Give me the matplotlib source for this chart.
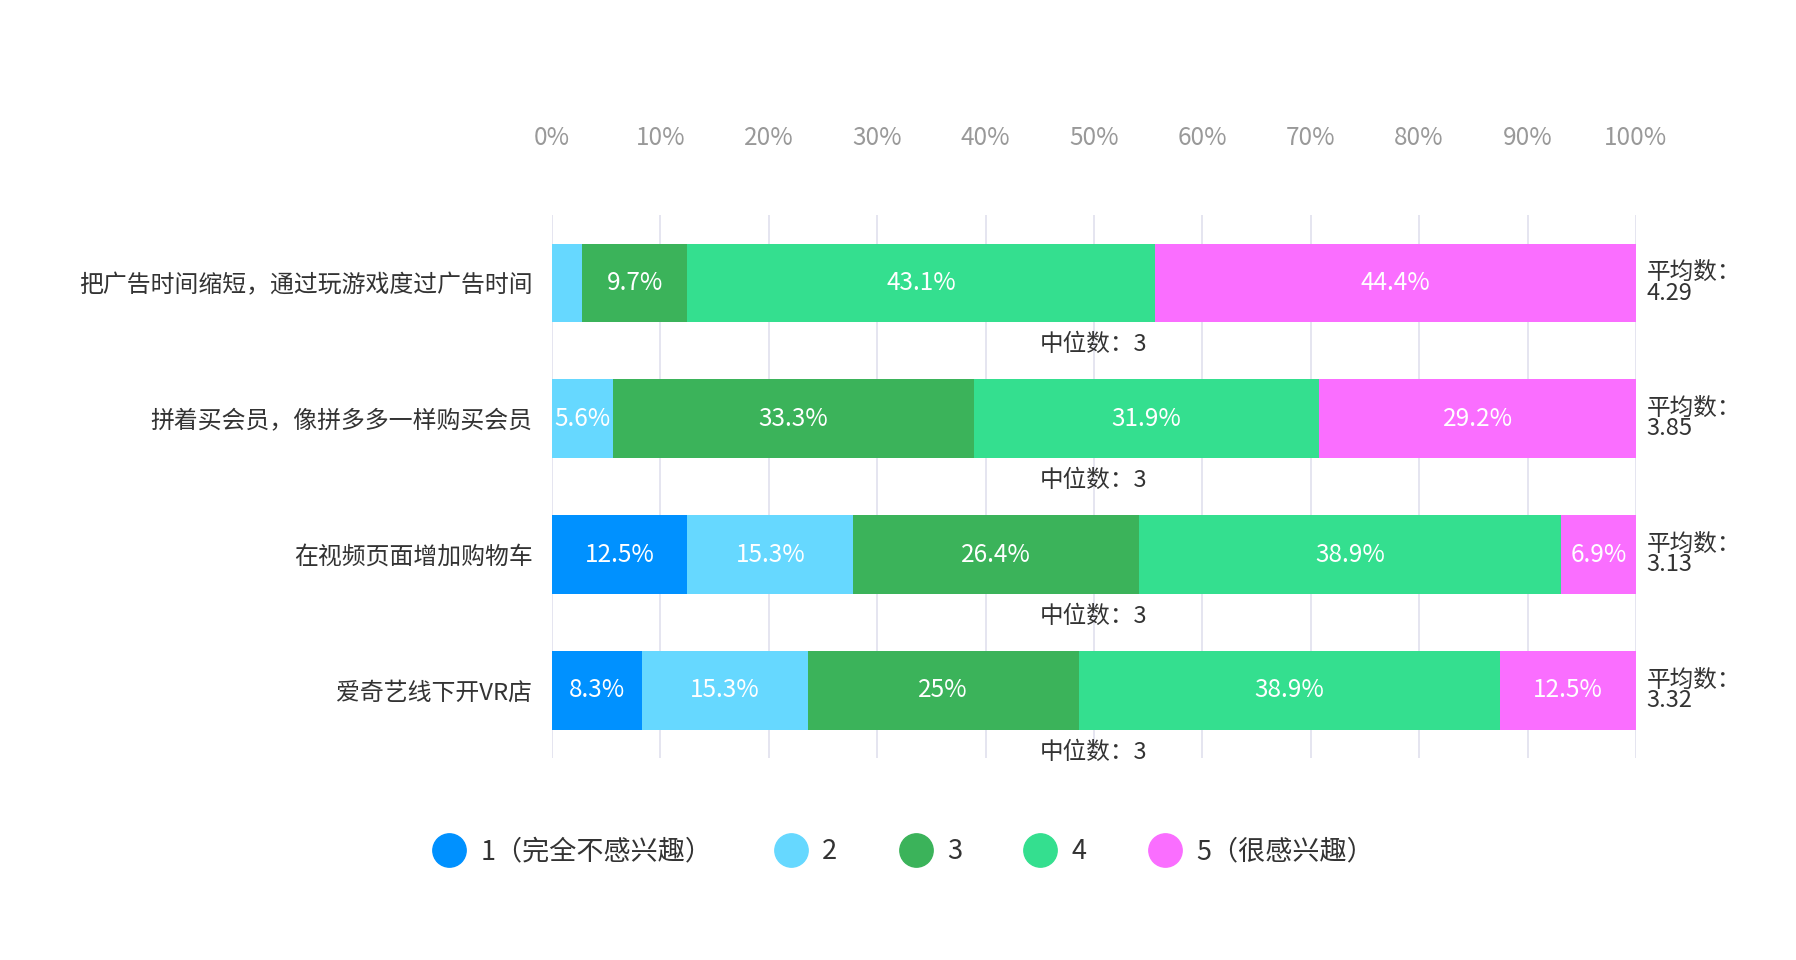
import matplotlib.pyplot as plt
from matplotlib.lines import Line2D

plt.rcParams['font.family'] = ['Noto Sans CJK SC', 'DejaVu Sans']

categories = ['把广告时间缩短，通过玩游戏度过广告时间', '拼着买会员，像拼多多一样购买会员',
              '在视频页面增加购物车', '爱奇艺线下开VR店']
series_names = ['1（完全不感兴趣）', '2', '3', '4', '5（很感兴趣）']
values = [
    [0, 2.8, 9.7, 43.1, 44.4],
    [0, 5.6, 33.3, 31.9, 29.2],
    [12.5, 15.3, 26.4, 38.9, 6.9],
    [8.3, 15.3, 25, 38.9, 12.5],
]
means = ['4.29', '3.85', '3.13', '3.32']
medians = ['3', '3', '3', '3']
colors = ['#0091FF', '#66D8FF', '#3BB35A', '#34DF8F', '#FA6EFF']

fig = plt.figure(figsize=(17.96, 9.60), dpi=100)
ax = fig.add_axes([0.3073, 0.210, 0.6036, 0.566])

for i, row in enumerate(values):
    left = 0
    for j, v in enumerate(row):
        if v > 0:
            ax.barh(i, v, left=left, height=0.58, color=colors[j], zorder=3)
            if v >= 5:
                ax.text(left + v / 2, i, f'{v:g}%', ha='center', va='center',
                        color='white', fontsize=17.5, zorder=4)
        left += v
    ax.text(50, i + 0.455, '中位数：' + medians[i], ha='center', va='center',
            fontsize=17, color='#333333')
    ax.text(101, i, '平均数：\n' + means[i], ha='left', va='center',
            fontsize=17, color='#333333', linespacing=0.85)

ax.set_xlim(0, 100)
ax.set_ylim(3.5, -0.5)
ax.set_xticks(range(0, 101, 10))
ax.set_xticklabels([f'{t}%' for t in range(0, 101, 10)])
ax.xaxis.tick_top()
ax.tick_params(axis='x', length=0, pad=46, labelsize=17.5, labelcolor='#999999')
ax.set_yticks(range(len(categories)))
ax.set_yticklabels(categories)
ax.tick_params(axis='y', length=0, pad=14, labelsize=17.2, labelcolor='#333333')
ax.grid(axis='x', color='#E0E0EE', linewidth=1.2, zorder=0)
for s in ax.spines.values():
    s.set_visible(False)

handles = [Line2D([], [], marker='o', linestyle='none', markersize=24,
                  markerfacecolor=c, markeredgecolor=c) for c in colors]
fig.legend(handles, series_names, loc='center', bbox_to_anchor=(0.5, 0.113),
           ncol=5, frameon=False, fontsize=19.5, handletextpad=0.15,
           columnspacing=1.9, labelcolor='#333333')

fig.savefig('out.png', dpi=100, facecolor='white')
